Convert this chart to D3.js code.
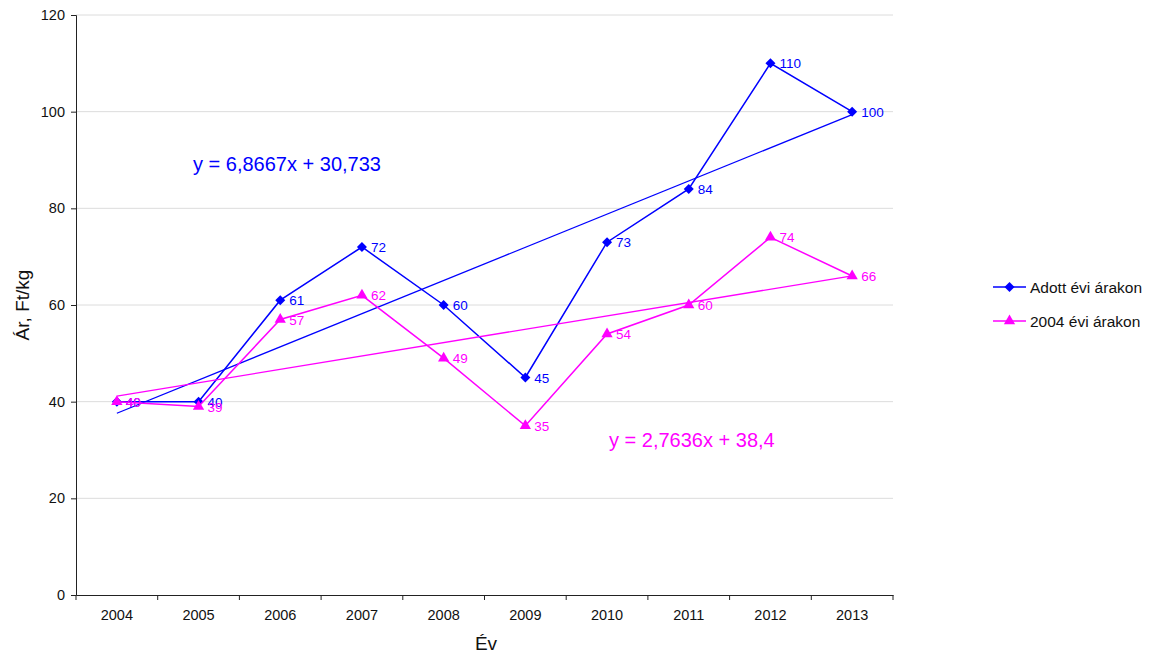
<!DOCTYPE html>
<html>
<head>
<meta charset="utf-8">
<script src="https://cdn.jsdelivr.net/npm/d3@7"></script>
<style>
  body { margin: 0; background: #fff; }
  text { font-family: Arial, "Liberation Sans", sans-serif; }
</style>
</head>
<body>
<div id="chart"></div>
<script>
// data
var years = ['2004', '2005', '2006', '2007', '2008', '2009', '2010', '2011', '2012', '2013'];
var adott = [40, 40, 61, 72, 60, 45, 73, 84, 110, 100];
var evi2004 = [40, 39, 57, 62, 49, 35, 54, 60, 74, 66];
var trendAdott = {slope: 6.8667, intercept: 30.733, label: 'y = 6,8667x + 30,733'};
var trendEvi = {slope: 2.7636, intercept: 38.4, label: 'y = 2,7636x + 38,4'};
var yTicks = [0, 20, 40, 60, 80, 100, 120];

var width = 1154, height = 655;
var margin = {top: 15, left: 76, right: 261, bottom: 60};
var plotW = width - margin.left - margin.right;
var plotH = height - margin.top - margin.bottom;

var svg = d3.select('#chart').append('svg')
  .attr('width', width).attr('height', height);

var g = svg.append('g').attr('transform', 'translate(' + [margin.left, margin.top] + ')');

var x = d3.scaleBand().domain(years).range([0, plotW]);
var y = d3.scaleLinear().domain([0, 120]).range([plotH, 0]);
var cx = function(i) { return x(years[i]) + x.bandwidth() / 2; };

// gridlines
g.selectAll('.grid').data(yTicks.filter(function(d) { return d > 0; }))
  .enter().append('line')
  .attr('x1', 0).attr('x2', plotW)
  .attr('y1', function(d) { return y(d); }).attr('y2', function(d) { return y(d); })
  .attr('stroke', '#dcdcdc').attr('stroke-width', 1);

// y axis
var yAxis = g.append('g').call(d3.axisLeft(y).tickValues(yTicks).tickSize(5).tickPadding(6));
// x axis with ticks at band boundaries
var xAxis = g.append('g').attr('transform', 'translate(0,' + plotH + ')')
  .call(d3.axisBottom(x).tickSize(0).tickPadding(15));
xAxis.selectAll('.bt').data(d3.range(years.length + 1)).enter().append('line')
  .attr('x1', function(i) { return i * x.bandwidth(); })
  .attr('x2', function(i) { return i * x.bandwidth(); })
  .attr('y1', 0).attr('y2', 5).attr('stroke', '#222');

[yAxis, xAxis].forEach(function(a) {
  a.select('.domain').attr('stroke', '#222');
  a.selectAll('.tick line').attr('stroke', '#222');
  a.selectAll('text').attr('font-size', 14.5).attr('fill', '#111')
    .style('font-family', 'Arial, "Liberation Sans", sans-serif');
});

// axis titles
svg.append('text').attr('x', 486).attr('y', 650).attr('text-anchor', 'middle')
  .attr('font-size', 19).attr('fill', '#111').text('Év');
svg.append('text').attr('transform', 'translate(29,305) rotate(-90)').attr('text-anchor', 'middle')
  .attr('font-size', 19).attr('fill', '#111').text('Ár, Ft/kg');

var series = [
  {name: 'Adott évi árakon', values: adott, color: '#0000ff', trend: trendAdott, symbol: d3.symbolSquare, size: 50, rot: 45,
   eq: {x: 193, y: 171}},
  {name: '2004 évi árakon', values: evi2004, color: '#ff00ff', trend: trendEvi, symbol: d3.symbolTriangle, size: 55, rot: 0,
   eq: {x: 609, y: 447}}
];

var line = d3.line().x(function(d, i) { return cx(i); }).y(function(d) { return y(d); });

series.forEach(function(s) {
  // trend line
  var t0 = s.trend.intercept + s.trend.slope * 1;
  var t1 = s.trend.intercept + s.trend.slope * years.length;
  g.append('line')
    .attr('x1', cx(0)).attr('y1', y(t0))
    .attr('x2', cx(years.length - 1)).attr('y2', y(t1))
    .attr('stroke', s.color).attr('stroke-width', 1.3);

  g.append('path').datum(s.values)
    .attr('fill', 'none').attr('stroke', s.color).attr('stroke-width', 1.5)
    .attr('d', line);

  g.selectAll(null).data(s.values).enter().append('path')
    .attr('d', d3.symbol().type(s.symbol).size(s.size))
    .attr('transform', function(d, i) { return 'translate(' + [cx(i), y(d)] + ') rotate(' + s.rot + ')'; })
    .attr('fill', s.color);

  g.selectAll(null).data(s.values).enter().append('text')
    .attr('x', function(d, i) { return cx(i) + 9; })
    .attr('y', function(d) { return y(d) + 5; })
    .attr('font-size', 13.5).attr('fill', s.color)
    .text(function(d) { return d; });

  svg.append('text').attr('x', s.eq.x).attr('y', s.eq.y)
    .attr('font-size', 20).attr('fill', s.color).text(s.trend.label);
});

// legend
var legend = svg.append('g').attr('transform', 'translate(993,287)');
series.forEach(function(s, i) {
  var lg = legend.append('g').attr('transform', 'translate(0,' + (i * 34) + ')');
  lg.append('line').attr('x1', 0).attr('x2', 33).attr('stroke', s.color).attr('stroke-width', 1.5);
  lg.append('path').attr('d', d3.symbol().type(s.symbol).size(s.size))
    .attr('transform', 'translate(16.5,0) rotate(' + s.rot + ')').attr('fill', s.color);
  lg.append('text').attr('x', 37).attr('y', 5.5).attr('font-size', 15.5).attr('fill', '#111').text(s.name);
});
</script>
</body>
</html>
